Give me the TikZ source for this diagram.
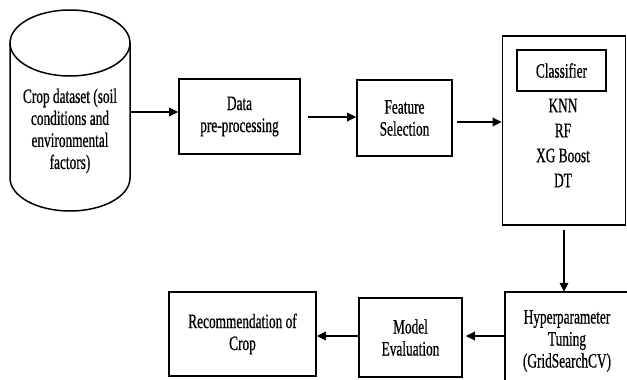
\documentclass[tikz,border=0pt]{standalone}
\usepackage{fontspec}
\setmainfont{Liberation Serif}[FakeStretch=0.65,FakeBold=0.6]
\usetikzlibrary{arrows.meta}
\begin{document}
\begin{tikzpicture}[x=1pt,y=-1pt,
  every node/.style={font=\fontsize{20.5}{22}\selectfont, align=center, inner sep=0pt},
  box/.style={draw, line width=1.7pt, rectangle},
  arr/.style={line width=2pt, -{Triangle[length=9pt,width=8.5pt]}}]
\useasboundingbox (0,0) rectangle (627,380);
\fill[white] (0,0) rectangle (627,380);
% cylinder
\draw[line width=1.5pt] (10,43) -- (10,178) arc[start angle=180, end angle=360, x radius=60, y radius=-33] -- (130,43);
\draw[line width=1.5pt] (70,43) ellipse [x radius=60, y radius=33];
\node[minimum width=120pt, minimum height=136pt] (cyl) at (70,112) {};
\node (dstext) at (70,131) {Crop dataset (soil\\conditions and\\environmental\\factors)};
% boxes
\node[box, minimum width=121pt, minimum height=75pt] (pre) at (239.5,116.5) {Data\\pre-processing};
\node[box, minimum width=95pt, minimum height=76pt] (fs) at (404.5,118) {Feature\\Selection};
\node[box, minimum width=123pt, minimum height=189pt] (cls) at (564,130.5) {};
\node[box, minimum width=89pt, minimum height=41pt] (inner) at (561.5,70.5) {Classifier};
\node (algos) at (563,143) {KNN\\[3pt]RF\\[3pt]XG Boost\\[3pt]DT};
\node[minimum width=122pt, minimum height=88pt] (hyp) at (566,336) {};
\draw[line width=1.7pt] (hyp.north east) -- (hyp.north west) -- (hyp.south west);
\node (hyptext) at (567,341) {Hyperparameter\\Tuning\\(GridSearchCV)};
\node[box, minimum width=103pt, minimum height=79pt] (me) at (410.5,337.5) {Model\\Evaluation};
\node[box, minimum width=147pt, minimum height=84pt] (rec) at (242.5,334) {Recommendation of\\Crop};
% arrows
\draw[arr] (cyl.east) -- (cyl.east -| pre.west);
\draw[arr] ([xshift=7pt,yshift=1pt]pre.east |- fs.west) -- ([yshift=1pt]fs.west);
\draw[arr] ([xshift=4pt,yshift=-4pt]fs.east) -- ([yshift=-4pt]fs.east -| cls.west);
\draw[arr] ([yshift=-4pt]cls.south) -- (cls.south |- hyp.north);
\draw[arr] (hyp.west) -- ([xshift=3pt]hyp.west -| me.east);
\draw[arr] (me.west |- hyp.west) -- (hyp.west -| rec.east);
\end{tikzpicture}
\end{document}
